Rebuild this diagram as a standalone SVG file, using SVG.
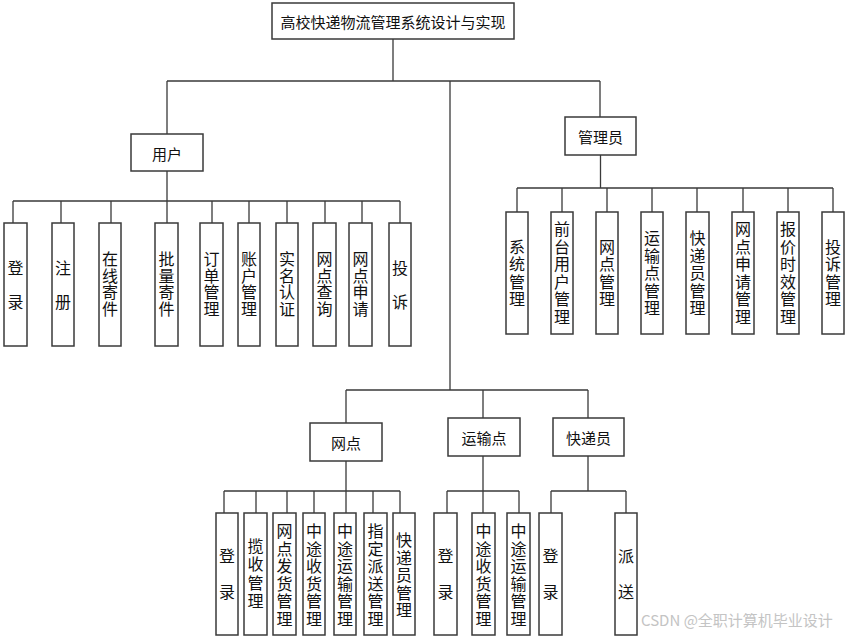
<svg xmlns="http://www.w3.org/2000/svg" width="849" height="637" viewBox="0 0 849 637">
<style>
.bx{fill:#fff;stroke:#3a3a3a;stroke-width:1.5}
.ln{fill:none;stroke:#3a3a3a;stroke-width:1.3}
.t{font-family:"Noto Sans CJK SC","Microsoft YaHei",sans-serif;font-size:15px;fill:#111;text-anchor:middle;dominant-baseline:central}
.v{font-family:"Noto Sans CJK SC","Microsoft YaHei",sans-serif;font-size:16px;fill:#111;text-anchor:middle;dominant-baseline:central}
.wm{font-family:"Noto Sans CJK SC",sans-serif;font-size:15px;fill:#c4c4c4}
</style>
<rect width="849" height="637" fill="#fff"/>
<g id="connectors">
<path class="ln" d="M393 39V81M167 81H600M167 81V134M600 81V117M450 81V390"/>
<path class="ln" d="M167 171V201M13 201H400M13 201V223M61 201V223M111 201V223M167 201V223M212 201V223M249 201V223M287 201V223M325 201V223M362 201V223M400 201V223"/>
<path class="ln" d="M600.5 155V188M517 188H833M517 188V212M562 188V212M607 188V212M652 188V212M697 188V212M743 188V212M788 188V212M833 188V212"/>
<path class="ln" d="M346 390H588M346 390V423M483 390V418M588 390V418"/>
<path class="ln" d="M346 461V491M224 491H400M224 491V513M256 491V513M287 491V513M314 491V513M346 491V513M373 491V513M400 491V513"/>
<path class="ln" d="M483 456V491M447 491H519M447 491V513M483 491V513M519 491V513"/>
<path class="ln" d="M588 456V491M551 491H626M551 491V513M626 491V513"/>
</g>
<g id="root"><rect class="bx" x="272" y="3" width="242" height="36"/><text class="t" x="393" y="21">高校快递物流管理系统设计与实现</text></g>
<g id="user"><rect class="bx" x="131" y="134" width="72" height="37"/><text class="t" x="167" y="153">用户</text></g>
<g id="admin"><rect class="bx" x="565" y="117" width="71" height="38"/><text class="t" x="600.5" y="136">管理员</text></g>
<g id="wangdian"><rect class="bx" x="310" y="423" width="72" height="38"/><text class="t" x="346" y="442">网点</text></g>
<g id="yunshudian"><rect class="bx" x="448" y="418" width="72" height="38"/><text class="t" x="484" y="437">运输点</text></g>
<g id="kuaidiyuan"><rect class="bx" x="553" y="418" width="71" height="38"/><text class="t" x="588.5" y="437">快递员</text></g>

<g id="u1"><rect class="bx" x="4" y="223" width="23" height="123"/><text class="v"><tspan x="15.5" y="267">登</tspan><tspan x="15.5" y="301">录</tspan></text></g>
<g id="u2"><rect class="bx" x="52" y="223" width="22" height="123"/><text class="v"><tspan x="63" y="267">注</tspan><tspan x="63" y="301">册</tspan></text></g>
<g id="u3"><rect class="bx" x="99" y="223" width="22" height="123"/><text class="v"><tspan x="110" y="258">在</tspan><tspan x="110" y="274.7">线</tspan><tspan x="110" y="291.3">寄</tspan><tspan x="110" y="308">件</tspan></text></g>
<g id="u4"><rect class="bx" x="155" y="223" width="23" height="123"/><text class="v"><tspan x="166.5" y="258">批</tspan><tspan x="166.5" y="274.7">量</tspan><tspan x="166.5" y="291.3">寄</tspan><tspan x="166.5" y="308">件</tspan></text></g>
<g id="u5"><rect class="bx" x="200" y="223" width="23" height="123"/><text class="v"><tspan x="211.5" y="258">订</tspan><tspan x="211.5" y="274.7">单</tspan><tspan x="211.5" y="291.3">管</tspan><tspan x="211.5" y="308">理</tspan></text></g>
<g id="u6"><rect class="bx" x="238" y="223" width="22" height="123"/><text class="v"><tspan x="249" y="258">账</tspan><tspan x="249" y="274.7">户</tspan><tspan x="249" y="291.3">管</tspan><tspan x="249" y="308">理</tspan></text></g>
<g id="u7"><rect class="bx" x="276" y="223" width="22" height="123"/><text class="v"><tspan x="287" y="258">实</tspan><tspan x="287" y="274.7">名</tspan><tspan x="287" y="291.3">认</tspan><tspan x="287" y="308">证</tspan></text></g>
<g id="u8"><rect class="bx" x="313" y="223" width="23" height="123"/><text class="v"><tspan x="324.5" y="258">网</tspan><tspan x="324.5" y="274.7">点</tspan><tspan x="324.5" y="291.3">查</tspan><tspan x="324.5" y="308">询</tspan></text></g>
<g id="u9"><rect class="bx" x="349" y="223" width="23" height="123"/><text class="v"><tspan x="360.5" y="258">网</tspan><tspan x="360.5" y="274.7">点</tspan><tspan x="360.5" y="291.3">申</tspan><tspan x="360.5" y="308">请</tspan></text></g>
<g id="u10"><rect class="bx" x="389" y="223" width="22" height="123"/><text class="v"><tspan x="400" y="267">投</tspan><tspan x="400" y="301">诉</tspan></text></g>

<g id="a1"><rect class="bx" x="506" y="212" width="22" height="122"/><text class="v"><tspan x="517" y="245.75">系</tspan><tspan x="517" y="263.25">统</tspan><tspan x="517" y="280.75">管</tspan><tspan x="517" y="298.25">理</tspan></text></g>
<g id="a2"><rect class="bx" x="551" y="212" width="22" height="122"/><text class="v"><tspan x="562" y="228.25">前</tspan><tspan x="562" y="245.75">台</tspan><tspan x="562" y="263.25">用</tspan><tspan x="562" y="280.75">户</tspan><tspan x="562" y="298.25">管</tspan><tspan x="562" y="315.75">理</tspan></text></g>
<g id="a3"><rect class="bx" x="596" y="212" width="22" height="122"/><text class="v"><tspan x="607" y="245.75">网</tspan><tspan x="607" y="263.25">点</tspan><tspan x="607" y="280.75">管</tspan><tspan x="607" y="298.25">理</tspan></text></g>
<g id="a4"><rect class="bx" x="641" y="212" width="22" height="122"/><text class="v"><tspan x="652" y="237">运</tspan><tspan x="652" y="254.5">输</tspan><tspan x="652" y="272">点</tspan><tspan x="652" y="289.5">管</tspan><tspan x="652" y="307">理</tspan></text></g>
<g id="a5"><rect class="bx" x="686" y="212" width="23" height="122"/><text class="v"><tspan x="697.5" y="237">快</tspan><tspan x="697.5" y="254.5">递</tspan><tspan x="697.5" y="272">员</tspan><tspan x="697.5" y="289.5">管</tspan><tspan x="697.5" y="307">理</tspan></text></g>
<g id="a6"><rect class="bx" x="732" y="212" width="22" height="122"/><text class="v"><tspan x="743" y="228.25">网</tspan><tspan x="743" y="245.75">点</tspan><tspan x="743" y="263.25">申</tspan><tspan x="743" y="280.75">请</tspan><tspan x="743" y="298.25">管</tspan><tspan x="743" y="315.75">理</tspan></text></g>
<g id="a7"><rect class="bx" x="777" y="212" width="22" height="122"/><text class="v"><tspan x="788" y="228.25">报</tspan><tspan x="788" y="245.75">价</tspan><tspan x="788" y="263.25">时</tspan><tspan x="788" y="280.75">效</tspan><tspan x="788" y="298.25">管</tspan><tspan x="788" y="315.75">理</tspan></text></g>
<g id="a8"><rect class="bx" x="822" y="212" width="22" height="122"/><text class="v"><tspan x="833" y="245.75">投</tspan><tspan x="833" y="263.25">诉</tspan><tspan x="833" y="280.75">管</tspan><tspan x="833" y="298.25">理</tspan></text></g>

<g id="w1"><rect class="bx" x="216" y="513" width="22" height="122"/><text class="v"><tspan x="227" y="555">登</tspan><tspan x="227" y="591">录</tspan></text></g>
<g id="w2"><rect class="bx" x="244" y="513" width="23" height="122"/><text class="v"><tspan x="255.5" y="545">揽</tspan><tspan x="255.5" y="563.3">收</tspan><tspan x="255.5" y="581.6">管</tspan><tspan x="255.5" y="600">理</tspan></text></g>
<g id="w3"><rect class="bx" x="273" y="513" width="23" height="122"/><text class="v"><tspan x="284.5" y="530.25">网</tspan><tspan x="284.5" y="547.75">点</tspan><tspan x="284.5" y="565.25">发</tspan><tspan x="284.5" y="582.75">货</tspan><tspan x="284.5" y="600.25">管</tspan><tspan x="284.5" y="617.75">理</tspan></text></g>
<g id="w4"><rect class="bx" x="303" y="513" width="22" height="122"/><text class="v"><tspan x="314" y="530.25">中</tspan><tspan x="314" y="547.75">途</tspan><tspan x="314" y="565.25">收</tspan><tspan x="314" y="582.75">货</tspan><tspan x="314" y="600.25">管</tspan><tspan x="314" y="617.75">理</tspan></text></g>
<g id="w5"><rect class="bx" x="334" y="513" width="22" height="122"/><text class="v"><tspan x="345" y="530.25">中</tspan><tspan x="345" y="547.75">途</tspan><tspan x="345" y="565.25">运</tspan><tspan x="345" y="582.75">输</tspan><tspan x="345" y="600.25">管</tspan><tspan x="345" y="617.75">理</tspan></text></g>
<g id="w6"><rect class="bx" x="364" y="513" width="23" height="122"/><text class="v"><tspan x="375.5" y="530.25">指</tspan><tspan x="375.5" y="547.75">定</tspan><tspan x="375.5" y="565.25">派</tspan><tspan x="375.5" y="582.75">送</tspan><tspan x="375.5" y="600.25">管</tspan><tspan x="375.5" y="617.75">理</tspan></text></g>
<g id="w7"><rect class="bx" x="393" y="513" width="22" height="122"/><text class="v"><tspan x="404" y="539">快</tspan><tspan x="404" y="556.5">递</tspan><tspan x="404" y="574">员</tspan><tspan x="404" y="591.5">管</tspan><tspan x="404" y="609">理</tspan></text></g>

<g id="y1"><rect class="bx" x="434" y="513" width="23" height="122"/><text class="v"><tspan x="445.5" y="555">登</tspan><tspan x="445.5" y="591">录</tspan></text></g>
<g id="y2"><rect class="bx" x="472" y="513" width="23" height="122"/><text class="v"><tspan x="483.5" y="530.25">中</tspan><tspan x="483.5" y="547.75">途</tspan><tspan x="483.5" y="565.25">收</tspan><tspan x="483.5" y="582.75">货</tspan><tspan x="483.5" y="600.25">管</tspan><tspan x="483.5" y="617.75">理</tspan></text></g>
<g id="y3"><rect class="bx" x="507" y="513" width="23" height="122"/><text class="v"><tspan x="518.5" y="530.25">中</tspan><tspan x="518.5" y="547.75">途</tspan><tspan x="518.5" y="565.25">运</tspan><tspan x="518.5" y="582.75">输</tspan><tspan x="518.5" y="600.25">管</tspan><tspan x="518.5" y="617.75">理</tspan></text></g>

<g id="k1"><rect class="bx" x="539" y="513" width="23" height="122"/><text class="v"><tspan x="550.5" y="555">登</tspan><tspan x="550.5" y="591">录</tspan></text></g>
<g id="k2"><rect class="bx" x="615" y="513" width="22" height="122"/><text class="v"><tspan x="626" y="555">派</tspan><tspan x="626" y="591">送</tspan></text></g>

<text class="wm" x="641" y="626">CSDN @全职计算机毕业设计</text>
</svg>
